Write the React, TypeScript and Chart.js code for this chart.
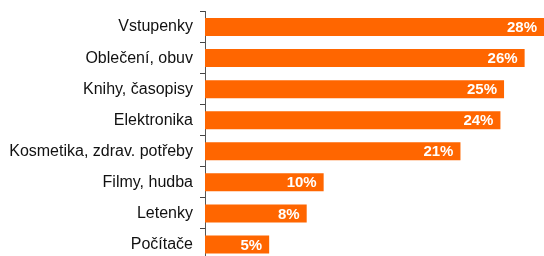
import React, { useEffect, useRef } from "react";
import { Chart, registerables } from "chart.js";

Chart.register(...registerables);

const categories = [
  "Vstupenky",
  "Oblečení, obuv",
  "Knihy, časopisy",
  "Elektronika",
  "Kosmetika, zdrav. potřeby",
  "Filmy, hudba",
  "Letenky",
  "Počítače",
];
const values = [28.0, 26.4, 24.7, 24.4, 21.1, 9.8, 8.4, 5.3];
const valueLabels = ["28%", "26%", "25%", "24%", "21%", "10%", "8%", "5%"];

const barLabelPlugin = {
  id: "barLabels",
  afterDatasetsDraw(chart: any) {
    const ctx = chart.ctx;
    const meta = chart.getDatasetMeta(0);
    ctx.save();
    ctx.font = "bold 15px 'Liberation Sans', Arial, sans-serif";
    ctx.fillStyle = "#ffffff";
    ctx.textAlign = "right";
    ctx.textBaseline = "middle";
    meta.data.forEach((bar: any, i: number) => {
      ctx.fillText(valueLabels[i], bar.x - 7, bar.y + 1);
    });
    ctx.restore();
  },
};

export default function App() {
  const ref = useRef<HTMLCanvasElement>(null);
  useEffect(() => {
    document.documentElement.style.overflow = "hidden";
    document.body.style.overflow = "hidden";
    const chart = new Chart(ref.current!, {
      type: "bar",
      data: {
        labels: categories,
        datasets: [
          {
            data: values,
            backgroundColor: "#ff6600",
            barPercentage: 0.58,
            categoryPercentage: 1,
          },
        ],
      },
      options: {
        indexAxis: "y",
        animation: false,
        responsive: false,
        maintainAspectRatio: false,
        layout: { padding: { top: 11.5, left: 0, right: 0, bottom: 0 } },
        plugins: { legend: { display: false }, tooltip: { enabled: false } },
        scales: {
          x: { display: false, min: 0, max: 28 },
          y: {
            afterFit(scale: any) {
              scale.width = 205;
              scale.paddingTop = 0;
              scale.paddingBottom = 0;
            },
            grid: {
              drawOnChartArea: false,
              drawTicks: true,
              tickLength: 5,
              color: "#444444",
              offset: true,
            },
            border: { display: true, color: "#555555", width: 1 },
            ticks: {
              color: "#111111",
              padding: 7,
              font: { family: "'Liberation Sans', Arial, sans-serif", size: 16 },
            },
          },
        },
      },
      plugins: [barLabelPlugin],
    });
    return () => chart.destroy();
  }, []);
  return (
    <div
      style={{
        position: "fixed",
        left: 0,
        top: 0,
        width: 544,
        height: 256,
        overflow: "hidden",
        background: "#fff",
      }}
    >
      <canvas ref={ref} width={544} height={260} style={{ display: "block" }} />
    </div>
  );
}
